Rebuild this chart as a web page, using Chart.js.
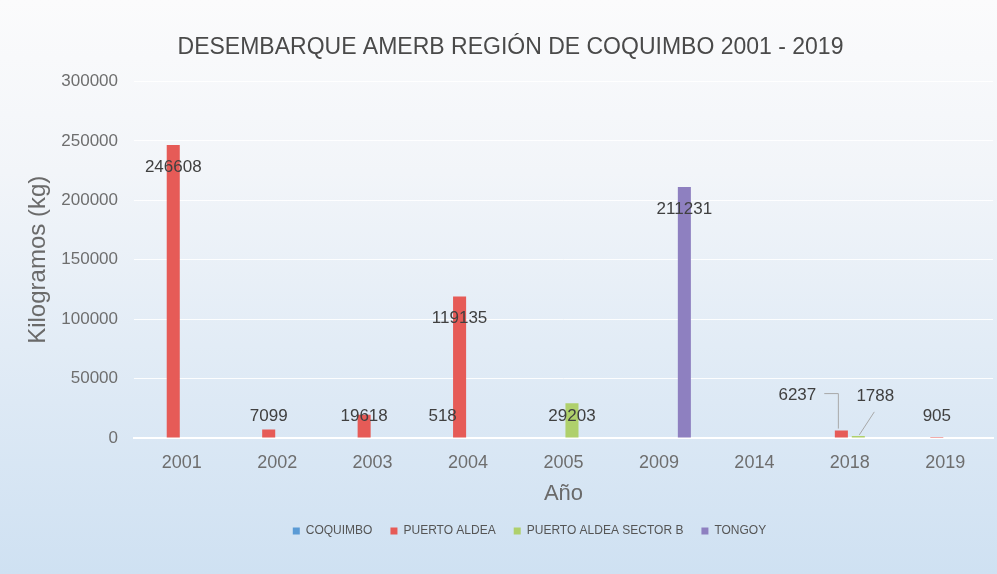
<!DOCTYPE html>
<html>
<head>
<meta charset="utf-8">
<script src="https://cdn.jsdelivr.net/npm/chart.js@4.4.1/dist/chart.umd.min.js"></script>
<style>
  html, body { margin: 0; padding: 0; }
  #wrap { width: 997px; height: 574px; }
</style>
</head>
<body>
<div id="wrap"><canvas id="chart" width="997" height="574"></canvas></div>
<script>
    const years = ['2001', '2002', '2003', '2004', '2005', '2009', '2014', '2018', '2019'];
    const coquimbo = [null, null, null, 518, null, null, null, null, null];
    const puertoAldea = [246608, 7099, 19618, 119135, null, null, null, 6237, 905];
    const puertoAldeaB = [null, null, null, null, 29203, null, null, 1788, null];
    const tongoy = [null, null, null, null, null, 211231, null, null, null];
    const yTicks = [0, 50000, 100000, 150000, 200000, 250000, 300000];

    const sans = '"Liberation Sans", Arial, sans-serif';
    const labelFont = '17px "Liberation Sans", Arial, sans-serif';

    // fondo degradado tipo escaneo
    const background = {
        id: 'background',
        beforeDraw(chart) {
            const { ctx, width, height } = chart;
            const g = ctx.createLinearGradient(0, 0, 0, height);
            g.addColorStop(0, '#fbfbfc');
            g.addColorStop(0.3, '#f2f5f9');
            g.addColorStop(0.7, '#dde9f5');
            g.addColorStop(1, '#cfe1f2');
            ctx.save();
            ctx.fillStyle = g;
            ctx.fillRect(0, 0, width, height);
            ctx.restore();
        }
    };

    // leyenda y titulo del original estan algo corridos a la derecha
    const shiftBoxes = {
        id: 'shiftBoxes',
        afterLayout(chart) {
            chart.legend.left += 33;
            chart.legend.right += 33;
            chart.titleBlock.left += 14;
            chart.titleBlock.right += 14;
        }
    };

    // etiquetas de datos (2018 desplazadas con linea guia)
    const moved = {
        '1|7': { dx: -44, dy: -35, leader: 'elbow' },
        '2|7': { dx: 17, dy: -40, leader: 'diag' }
    };
    const dataLabels = {
        id: 'dataLabels',
        afterDatasetsDraw(chart) {
            const { ctx } = chart;
            const zeroY = chart.scales.y.getPixelForValue(0);
            ctx.save();
            ctx.font = labelFont;
            ctx.textAlign = 'center';
            ctx.textBaseline = 'middle';
            chart.data.datasets.forEach((ds, di) => {
                chart.getDatasetMeta(di).data.forEach((bar, i) => {
                    const v = ds.data[i];
                    if (v === null) return;
                    const text = String(v);
                    let lx = bar.x, ly = Math.min(bar.y + 22, zeroY - 22);
                    const m = moved[di + '|' + i];
                    if (m) {
                        lx = bar.x + m.dx;
                        ly = bar.y + m.dy;
                        const w = ctx.measureText(text).width;
                        ctx.strokeStyle = '#a8a8a8';
                        ctx.lineWidth = 1;
                        ctx.beginPath();
                        if (m.leader === 'elbow') {
                            ctx.moveTo(lx + w / 2 + 8, ly - 2);
                            ctx.lineTo(bar.x - 3, ly - 2);
                            ctx.lineTo(bar.x - 3, bar.y - 2);
                        } else {
                            ctx.moveTo(lx - 1, ly + 16);
                            ctx.lineTo(bar.x + 1, bar.y - 1);
                        }
                        ctx.stroke();
                    }
                    ctx.fillStyle = '#404040';
                    ctx.fillText(text, lx, ly);
                });
            });
            ctx.restore();
        }
    };

    const ctx = document.getElementById('chart').getContext('2d');
    new Chart(ctx, {
        type: 'bar',
        data: {
            labels: years,
            datasets: [
                { label: 'COQUIMBO', data: coquimbo, backgroundColor: '#5b9bd5' },
                { label: 'PUERTO ALDEA', data: puertoAldea, backgroundColor: '#e65b57' },
                { label: 'PUERTO ALDEA SECTOR B', data: puertoAldeaB, backgroundColor: '#afd06c' },
                { label: 'TONGOY', data: tongoy, backgroundColor: '#8e80c0' }
            ]
        },
        options: {
            responsive: false,
            animation: false,
            categoryPercentage: 0.71,
            barPercentage: 0.77,
            layout: { padding: { left: 0, right: 4, top: 0, bottom: 27 } },
            plugins: {
                title: {
                    display: true,
                    text: 'DESEMBARQUE AMERB REGIÓN DE COQUIMBO 2001 - 2019',
                    color: '#4a4a4a',
                    font: { family: sans, size: 23, weight: 'normal' },
                    padding: { top: 34, bottom: 20 }
                },
                legend: {
                    position: 'bottom',
                    labels: {
                        color: '#555555',
                        font: { family: sans, size: 12 },
                        boxWidth: 7,
                        boxHeight: 7,
                        padding: 18
                    }
                },
                tooltip: { enabled: false }
            },
            scales: {
                x: {
                    grid: { display: false, drawTicks: false },
                    border: { display: true, color: '#ffffff', width: 2 },
                    ticks: {
                        color: '#6e6e6e',
                        padding: 14,
                        font: { family: sans, size: 18 }
                    },
                    title: {
                        display: true,
                        text: 'Año',
                        color: '#6a6a6a',
                        font: { family: sans, size: 22 },
                        padding: { top: 0, bottom: 0 }
                    },
                    afterFit(scale) { scale.height = 69; }
                },
                y: {
                    min: 0,
                    max: 300000,
                    afterBuildTicks(scale) { scale.ticks = yTicks.map(v => ({ value: v })); },
                    grid: { color: 'rgba(255,255,255,0.9)', drawTicks: false },
                    border: { display: false },
                    ticks: {
                        color: '#6e6e6e',
                        padding: 16,
                        font: { family: sans, size: 17 },
                        callback: v => String(v)
                    },
                    title: {
                        display: true,
                        text: 'Kilogramos (kg)',
                        color: '#6a6a6a',
                        font: { family: sans, size: 24 },
                        padding: { top: 24, bottom: 0 }
                    },
                    afterFit(scale) { scale.width = 134; }
                }
            }
        },
        plugins: [background, shiftBoxes, dataLabels]
    });
</script>
</body>
</html>
